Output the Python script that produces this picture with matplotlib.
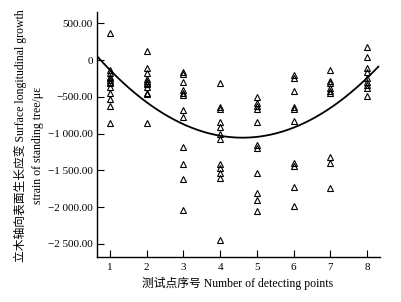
import matplotlib
matplotlib.use("Agg")
import matplotlib.pyplot as plt
import numpy as np
from matplotlib.ticker import FuncFormatter

# Data: growth strain readings per detecting point
p1 = [363, -136, -181, -226, -249, -272, -294, -317, -362, -444, -535, -625, -852]
p2 = [127, -113, -181, -263, -285, -308, -326, -362, -444, -462, -852]
p3 = [-159, -190, -303, -408, -444, -476, -680, -779, -1178, -1418, -1617, -2039]
p4 = [-317, -634, -666, -838, -906, -1006, -1078, -1418, -1472, -1540, -1608, -2446]
p5 = [-507, -580, -625, -670, -838, -1155, -1200, -1531, -1803, -1903, -2048]
p6 = [-204, -249, -417, -643, -670, -825, -1404, -1441, -1722, -1984]
p7 = [-136, -281, -308, -385, -417, -453, -1314, -1404, -1744]
p8 = [172, 45, -113, -159, -249, -294, -340, -385, -489]
points = [1, 2, 3, 4, 5, 6, 7, 8]
series = [p1, p2, p3, p4, p5, p6, p7, p8]

# Quadratic trend coefficients (a, b, c) for y = a x^2 + b x + c
trend_coef = [70.5, -650.0, 443.0]
trend_range = [0.64, 8.31]

yticks = [500, 0, -500, -1000, -1500, -2000, -2500]

fig = plt.figure(figsize=(4.01, 3.02), dpi=100)
ax = fig.add_axes([0.242, 0.149, 0.706, 0.811])

for xp, vals in zip(points, series):
    ax.plot([xp] * len(vals), vals, linestyle="none", marker="^", markersize=3.8,
            markerfacecolor="none", markeredgecolor="black", markeredgewidth=0.8)

xs = np.linspace(trend_range[0], trend_range[1], 200)
ax.plot(xs, np.polyval(trend_coef, xs), color="black", linewidth=1.3)

ax.set_xlim(0.645, 8.36)
ax.set_ylim(-2677, 652)

ax.spines["top"].set_visible(False)
ax.spines["right"].set_visible(False)
for s in ["left", "bottom"]:
    ax.spines[s].set_linewidth(1.0)

ax.set_xticks(points)
ax.set_yticks(yticks)


def fmt(v, pos):
    if v == 0:
        return "0"
    s = f"{abs(v):,.2f}".replace(",", " ")
    return ("\u2212" if v < 0 else "") + s


ax.yaxis.set_major_formatter(FuncFormatter(fmt))
ax.tick_params(direction="in", length=5, width=0.8, labelsize=8)
for lab in ax.get_xticklabels() + ax.get_yticklabels():
    lab.set_family(["Liberation Serif"])
ax.tick_params(axis="y", pad=3)
ax.tick_params(axis="x", pad=4)

fam = ["Liberation Serif", "Noto Sans CJK SC"]
fig.text(20 / 401, 1 - 136 / 302, "立木轴向表面生长应变 Surface longitudinal growth",
         rotation=90, ha="center", va="center", fontsize=8.5, family=fam)
fig.text(38 / 401, 1 - 145 / 302, "strain of standing tree/με",
         rotation=90, ha="center", va="center", fontsize=8.5, family=fam)
fig.text(238 / 401, 1 - 283 / 302, "测试点序号 Number of detecting points",
         ha="center", va="center", fontsize=8.5, family=fam)

fig.savefig("out.png", dpi=100)
